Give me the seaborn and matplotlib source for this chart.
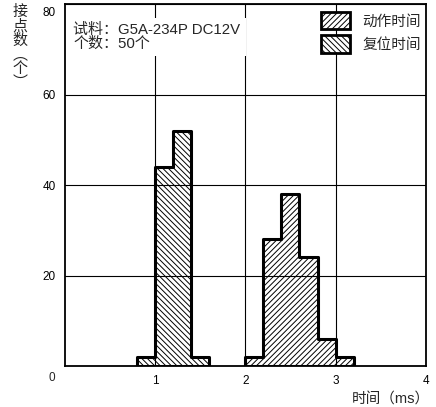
import numpy as np
import pandas as pd
import matplotlib
matplotlib.use("Agg")
import matplotlib.pyplot as plt
from matplotlib.patches import Patch
from matplotlib.transforms import ScaledTranslation
import seaborn as sns

# 复位时间 (reset time), bins of 0.2 ms
reset_edges = [0.8, 1.0, 1.2, 1.4, 1.6]
reset_counts = [2, 44, 52, 2]

# 动作时间 (operate time), bins of 0.2 ms
operate_edges = [2.0, 2.2, 2.4, 2.6, 2.8, 3.0, 3.2]
operate_counts = [2, 28, 38, 24, 6, 2]

x_ticks = [1, 2, 3, 4]
y_ticks = [20, 40, 60, 80]

sns.set_theme(style="white")
plt.rcParams['font.family'] = ['Liberation Sans', 'Noto Sans CJK SC', 'DejaVu Sans']
plt.rcParams['hatch.linewidth'] = 0.7
plt.rcParams['hatch.color'] = 'black'

fig = plt.figure(figsize=(4.36, 4.07), dpi=100)
ax = fig.add_axes([0.148, 0.1007, 0.829, 0.8893])

def centers(edges):
    e = np.asarray(edges)
    return (e[:-1] + e[1:]) / 2

df_reset = pd.DataFrame({'t': centers(reset_edges), 'n': reset_counts})
df_oper = pd.DataFrame({'t': centers(operate_edges), 'n': operate_counts})

sns.histplot(data=df_reset, x='t', weights='n', bins=reset_edges, element='step',
             fill=True, color='black', facecolor='none', edgecolor='black', linewidth=2.2,
             hatch='\\\\\\\\\\\\', ax=ax, zorder=3)
sns.histplot(data=df_oper, x='t', weights='n', bins=operate_edges, element='step',
             fill=True, color='black', facecolor='none', edgecolor='black', linewidth=2.2,
             hatch='//////', ax=ax, zorder=3)

ax.set_xlim(0, 4)
ax.set_ylim(0, 80)
ax.set_xticks(x_ticks)
ax.set_yticks(y_ticks)
ax.set_xlabel('')
ax.set_ylabel('')
ax.grid(True, color='black', linewidth=0.8)
ax.set_axisbelow(True)
ax.tick_params(length=0, labelsize=8.5, pad=6.5, colors='black')
for s in ax.spines.values():
    s.set_color('black')
    s.set_linewidth(1.3)

# 80 label sits a little below the top edge
lab80 = ax.get_yticklabels()[-1]
lab80.set_transform(lab80.get_transform() + ScaledTranslation(0, -0.07, fig.dpi_scale_trans))

# corner zero
ax.text(-0.035, -0.033, '0', transform=ax.transAxes, ha='center', va='center', fontsize=8.5)

# axis titles
ax.text(1.012, -0.094, '时间（ms）', transform=ax.transAxes, ha='right', va='center', fontsize=10.5)
ax.text(-0.123, 0.997, '接\n点\n数\n︵\n个\n︶', transform=ax.transAxes, ha='center', va='top',
        fontsize=10.8, linespacing=1.0)

# sample note
ax.text(0.024, 0.948, '试料：G5A-234P DC12V\n个数：50个', transform=ax.transAxes,
        ha='left', va='top', fontsize=10.8, linespacing=1.0, zorder=4,
        bbox=dict(boxstyle='square,pad=0.35', facecolor='white', edgecolor='none'))

handles = [
    Patch(facecolor='white', edgecolor='black', hatch='//////', linewidth=2, label='动作时间'),
    Patch(facecolor='white', edgecolor='black', hatch='\\\\\\\\\\\\', linewidth=2, label='复位时间'),
]
ax.legend(handles=handles, loc='upper right', bbox_to_anchor=(0.985, 0.978), frameon=False,
          fontsize=10.5, handlelength=2.0, handleheight=1.45, handletextpad=0.8,
          labelspacing=0.4, borderpad=0, borderaxespad=0)

fig.savefig('out.png', dpi=100)
